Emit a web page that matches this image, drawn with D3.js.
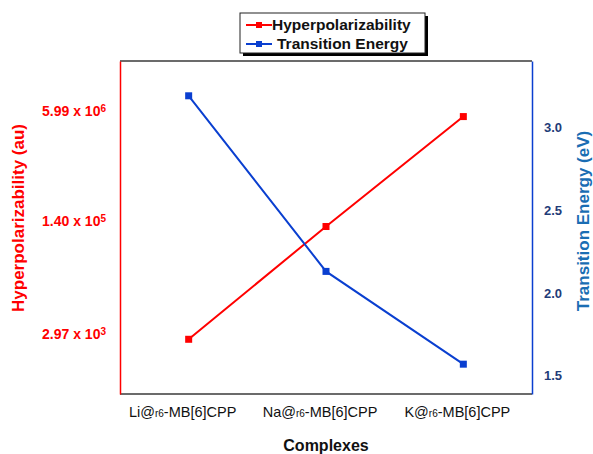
<!DOCTYPE html>
<html>
<head>
<meta charset="utf-8">
<script src="https://cdn.jsdelivr.net/npm/d3@7"></script>
<style>
  body { margin: 0; background: #fff; }
  svg { font-family: "Liberation Sans", Arial, sans-serif; }
</style>
</head>
<body>
<svg id="chart" width="593" height="454"></svg>
<script>
// Complexes and their computed properties
const complexes = ["Li", "Na", "K"];
const hyperpolarizability = [2.97e3, 1.40e5, 5.99e6]; // au
const transitionEnergy = [3.19, 2.13, 1.57];           // eV
const leftTicks = [
  { value: 2.97e3, mant: "2.97", exp: "3" },
  { value: 1.40e5, mant: "1.40", exp: "5" },
  { value: 5.99e6, mant: "5.99", exp: "6" }
];
const rightTicks = [1.5, 2.0, 2.5, 3.0];

const svg = d3.select("#chart");
const m = { left: 120, right: 532, top: 61, bottom: 394 };

const x = d3.scalePoint().domain(complexes).range([m.left, m.right]).padding(0.5);
const yL = d3.scaleLog().domain([458, 4.0e7]).range([m.bottom, m.top]);
const yR = d3.scaleLinear().domain([1.39, 3.40]).range([m.bottom, m.top]);

const RED = "#ff0000", BLUE = "#0a3fd0";

// frame
svg.append("line").attr("x1", m.left).attr("x2", m.right).attr("y1", m.top).attr("y2", m.top)
  .attr("stroke", "#3a3a3a").attr("stroke-width", 1.5);
svg.append("line").attr("x1", m.left).attr("x2", m.right).attr("y1", m.bottom).attr("y2", m.bottom)
  .attr("stroke", "#3a3a3a").attr("stroke-width", 1.5);

// left axis (log)
const axL = d3.axisLeft(yL).tickValues(leftTicks.map(d => d.value)).tickSize(0).tickFormat("");
const gL = svg.append("g").attr("transform", `translate(${m.left},0)`).call(axL);
gL.select(".domain").attr("stroke", RED).attr("stroke-width", 1.5);
gL.selectAll(".tick").each(function(d, i) {
  const t = leftTicks[i];
  const txt = d3.select(this).append("text")
    .attr("x", -14).attr("dy", "-0.05em").attr("text-anchor", "end")
    .attr("fill", RED).attr("font-weight", "bold").attr("font-size", 14);
  txt.append("tspan").text(t.mant + " x 10");
  txt.append("tspan").attr("dy", "-0.45em").attr("font-size", 10).text(t.exp);
});

// right axis (linear)
const axR = d3.axisRight(yR).tickValues(rightTicks).tickSize(0).tickFormat(d3.format(".1f"));
const gR = svg.append("g").attr("transform", `translate(${m.right},0)`).call(axR);
gR.select(".domain").attr("stroke", BLUE).attr("stroke-width", 1.5);
gR.selectAll(".tick text").attr("x", 12).attr("fill", "#1f3c78")
  .attr("font-weight", "bold").attr("font-size", 13).attr("font-family", "Liberation Sans, Arial, sans-serif");

// category labels
complexes.forEach(c => {
  const t = svg.append("text").attr("x", x(c) - 6).attr("y", 417).attr("text-anchor", "middle")
    .attr("font-size", 14.5).attr("fill", "#111");
  t.append("tspan").text(c + "@");
  t.append("tspan").attr("font-size", 10).text("r6");
  t.append("tspan").text("-MB[6]CPP");
});

// axis titles
svg.append("text").attr("transform", "translate(24,218) rotate(-90)").attr("text-anchor", "middle")
  .attr("fill", RED).attr("font-weight", "bold").attr("font-size", 17).text("Hyperpolarizability (au)");
svg.append("text").attr("transform", "translate(589,221) rotate(-90)").attr("text-anchor", "middle")
  .attr("fill", "#1a6db3").attr("font-weight", "bold").attr("font-size", 17).text("Transition Energy (eV)");
svg.append("text").attr("x", 326).attr("y", 451).attr("text-anchor", "middle")
  .attr("fill", "#111").attr("font-weight", "bold").attr("font-size", 16).text("Complexes");

// series
function drawSeries(vals, yScale, color) {
  const pts = complexes.map((c, i) => [x(c), yScale(vals[i])]);
  svg.append("path").attr("d", d3.line()(pts)).attr("fill", "none")
    .attr("stroke", color).attr("stroke-width", 2);
  svg.selectAll(null).data(pts).enter().append("rect")
    .attr("x", d => d[0] - 3.5).attr("y", d => d[1] - 3.5)
    .attr("width", 7).attr("height", 7).attr("fill", color);
}
drawSeries(hyperpolarizability, yL, RED);
drawSeries(transitionEnergy, yR, BLUE);

// legend
const lg = svg.append("g");
lg.append("rect").attr("x", 243).attr("y", 16).attr("width", 185).attr("height", 40).attr("fill", "#000");
lg.append("rect").attr("x", 240).attr("y", 13).attr("width", 185).attr("height", 40)
  .attr("fill", "#fff").attr("stroke", "#222").attr("stroke-width", 1);
[["Hyperpolarizability", RED, 25, 272], ["Transition Energy", BLUE, 44, 277]].forEach(([name, col, yy, tx]) => {
  lg.append("line").attr("x1", 246).attr("x2", 272).attr("y1", yy).attr("y2", yy)
    .attr("stroke", col).attr("stroke-width", 2);
  lg.append("rect").attr("x", 256).attr("y", yy - 3).attr("width", 6).attr("height", 6).attr("fill", col);
  lg.append("text").attr("x", tx).attr("y", yy).attr("dy", "0.35em").attr("font-weight", "bold")
    .attr("font-size", 15.5).attr("fill", "#111").text(name);
});
</script>
</body>
</html>
